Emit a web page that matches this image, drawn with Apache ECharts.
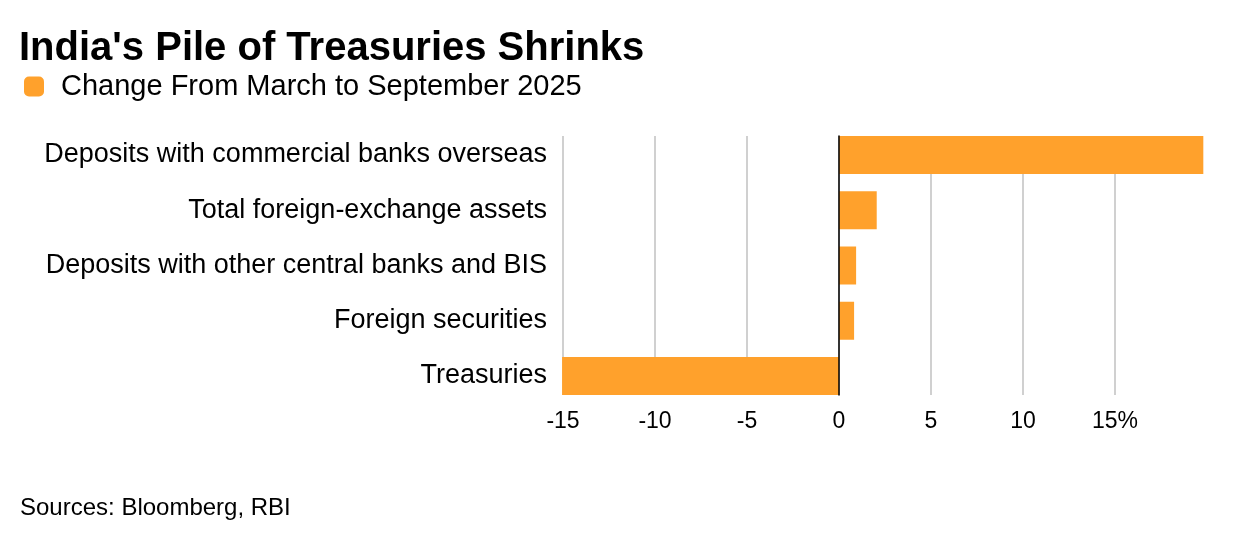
<!DOCTYPE html>
<html>
<head>
<meta charset="utf-8">
<script src="https://cdn.jsdelivr.net/npm/echarts@6/dist/echarts.min.js"></script>
<style>
  html, body { margin: 0; padding: 0; background: #fff; }
  #chart { width: 1236px; height: 542px; }
</style>
</head>
<body>
<div id="chart"></div>
<script>
// data
const categories = [
    'Deposits with commercial banks overseas',
    'Total foreign-exchange assets',
    'Deposits with other central banks and BIS',
    'Foreign securities',
    'Treasuries'
];
const changePct = [19.8, 2.05, 0.93, 0.82, -15.05];
const seriesName = 'Change From March to September 2025';
const xTicks = [-15, -10, -5, 0, 5, 10, 15];

const FONT = '"Liberation Sans", Arial, Helvetica, sans-serif';
const ORANGE = '#ffa12c';

const chart = echarts.init(document.getElementById('chart'));

const option = {
    animation: false,
    textStyle: { fontFamily: FONT },
    title: [
        {
            text: "India's Pile of Treasuries Shrinks",
            left: 19, top: 29,
            padding: 0,
            textStyle: { fontFamily: FONT, fontSize: 40, fontWeight: 'bold', color: '#000' }
        },
        {
            text: 'Sources: Bloomberg, RBI',
            left: 20, top: 496,
            padding: 0,
            textStyle: { fontFamily: FONT, fontSize: 24, fontWeight: 'normal', color: '#000' }
        }
    ],
    legend: {
        data: [seriesName],
        left: 24, top: 72,
        padding: 0,
        icon: 'roundRect',
        itemWidth: 20, itemHeight: 20,
        textStyle: { fontFamily: FONT, fontSize: 29, color: '#000', padding: [0, 0, 0, 12] }
    },
    grid: [
        // axes / gridlines
        { left: 563, right: 121, top: 136, bottom: 147 },
        // bars
        { left: 563, right: 121, top: 127.4, bottom: 138.4 }
    ],
    xAxis: [
        {
            type: 'value', gridIndex: 0,
            min: xTicks[0], max: xTicks[xTicks.length - 1], interval: 5,
            axisLine: { show: false },
            axisTick: { show: false },
            splitLine: { show: true, lineStyle: { color: '#d0d0d0', width: 2 } },
            axisLabel: {
                fontFamily: FONT, fontSize: 23, color: '#000', margin: 15,
                formatter: v => (v === 15 ? '15%' : String(v))
            }
        },
        {
            type: 'value', gridIndex: 1,
            min: xTicks[0], max: xTicks[xTicks.length - 1],
            show: false
        }
    ],
    yAxis: [
        {
            // zero line
            type: 'value', gridIndex: 0, min: 0, max: 1, z: 10,
            axisLine: { show: true, onZero: true, lineStyle: { color: '#000', width: 1.5 } },
            axisTick: { show: false },
            axisLabel: { show: false },
            splitLine: { show: false }
        },
        {
            type: 'category', gridIndex: 1, inverse: true,
            data: categories,
            axisLine: { show: false },
            axisTick: { show: false },
            axisLabel: { fontFamily: FONT, fontSize: 27, color: '#000', margin: 16, padding: [10, 0, 0, 0] }
        }
    ],
    series: [
        {
            name: seriesName,
            type: 'bar',
            xAxisIndex: 1, yAxisIndex: 1,
            data: changePct,
            barWidth: 38,
            clip: false,
            itemStyle: { color: ORANGE }
        }
    ]
};

chart.setOption(option);
</script>
</body>
</html>
